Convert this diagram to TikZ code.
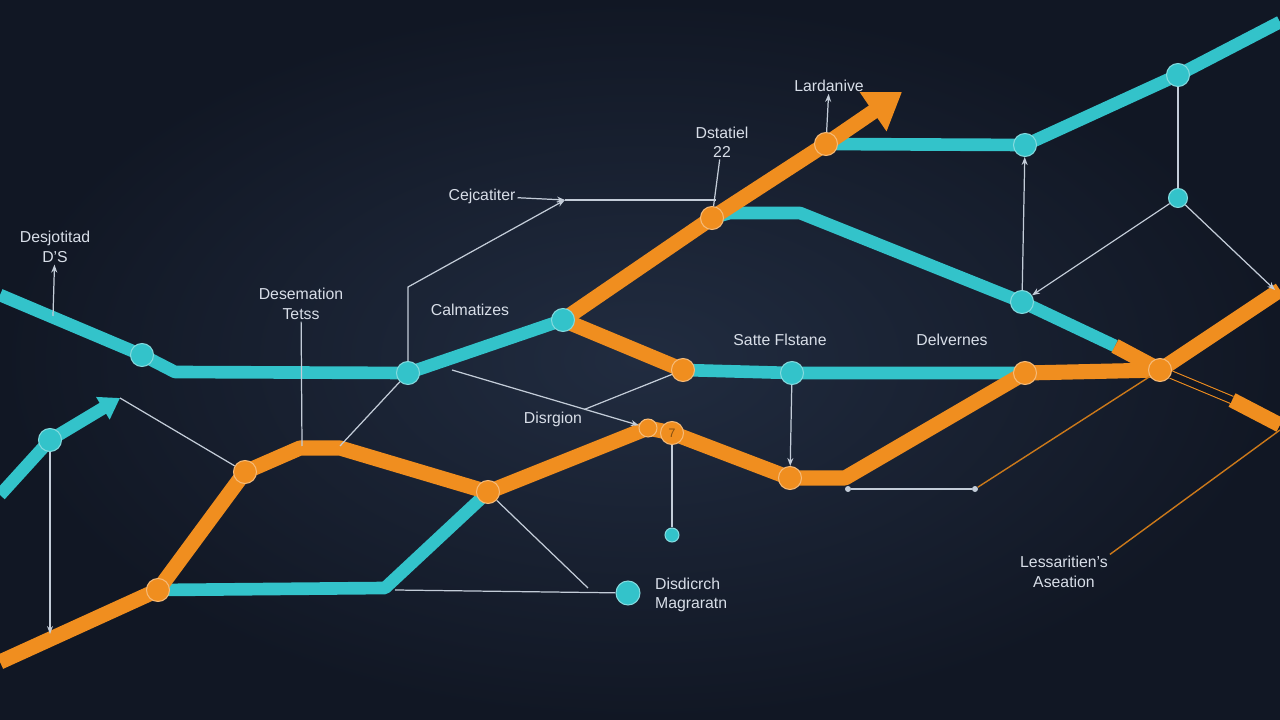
\documentclass[tikz,border=0pt]{standalone}
\usepackage{fontspec}
\setmainfont{Liberation Sans}
\usetikzlibrary{arrows.meta,backgrounds}
\definecolor{bgin}{HTML}{212C40}
\definecolor{bgout}{HTML}{111724}
\definecolor{tealc}{HTML}{33C3CA}
\definecolor{orangec}{HTML}{F08E1F}
\definecolor{linec}{HTML}{C3CCD8}
\definecolor{labelc}{HTML}{D8DEE8}
\tikzset{
  tealbar/.style={draw=tealc, line width=7.2pt, line join=round},
  orangebar/.style={draw=orangec, line width=8.6pt, line join=round},
  thinline/.style={draw=linec, line width=0.7pt},
  orangethin/.style={draw=orangec!85!black, line width=0.8pt},
  tdot/.style={circle, fill=tealc, draw=tealc!60!white, line width=0.6pt, minimum size=4.6mm, inner sep=0pt},
  odot/.style={circle, fill=orangec, draw=orangec!60!white, line width=0.6pt, minimum size=4.6mm, inner sep=0pt},
  pt/.style={circle, fill=linec, minimum size=1.2mm, inner sep=0pt},
  lbl/.style={text=labelc, font=\small, align=center, inner sep=1pt},
}
\begin{document}
\begin{tikzpicture}[x=0.2mm,y=-0.2mm]
\useasboundingbox (0,0) rectangle (1280,720);
	\node[tdot] (ta) at (142,355) {};
	\node[tdot] (tb) at (408,373) {};
	\node[tdot] (tc) at (563,320) {};
	\node[tdot] (td) at (792,373) {};
	\node[tdot] (te) at (1022,302) {};
	\node[tdot] (tf) at (1025,145) {};
	\node[tdot] (tg) at (1178,75) {};
	\node[tdot, minimum size=3.8mm] (th) at (1178,198) {};
	\node[tdot] (ti) at (50,440) {};
	\node[tdot, minimum size=4.8mm] (tj) at (628,593) {};
	\node[tdot, minimum size=2.8mm] (tk) at (672,535) {};
	\node[odot] (oa) at (712,218) {};
	\node[odot] (ob) at (826,144) {};
	\node[odot] (oc) at (683,370) {};
	\node[odot] (od) at (1025,373) {};
	\node[odot] (oe) at (1160,370) {};
	\node[odot] (of) at (158,590) {};
	\node[odot] (og) at (245,472) {};
	\node[odot] (oh) at (488,492) {};
	\node[odot, minimum size=3.6mm] (ok) at (648,428) {};
	\node[odot, font=\scriptsize, text=orangec!55!black] (oi) at (672,433) {7};
	\node[odot] (oj) at (790,478) {};
	\node[pt] (p1) at (848,489) {};
	\node[pt] (p2) at (975,489) {};
	\coordinate (cj) at (565,200);
	\node[lbl] (l1) at (55,247) {Desjotitad\\D'S};
	\node[lbl] (l2) at (301,304) {Desemation\\Tetss};
	\node[lbl] (l3) at (482,196) {Cejcatiter};
	\node[lbl] (l4) at (722,142) {Dstatiel\\22};
	\node[lbl] (l5) at (829,86) {Lardanive};
	\node[lbl] (l6) at (470,310) {Calmatizes};
	\node[lbl] (l7) at (780,340) {Satte Flstane};
	\node[lbl] (l8) at (952,340) {Delvernes};
	\node[lbl] (l9) at (553,419) {Disrgion};
	\node[lbl, align=left, anchor=west] (l10) at (653,595) {Disdicrch\\Magraratn};
	\node[lbl] (l11) at (1064,572) {Lessaritien's\\Aseation};
\begin{scope}[on background layer]
	\shade[inner color=bgin, outer color=bgout] (0,0) rectangle (1280,720);
	% teal bars
	\draw[tealbar] (0,295) -- (ta.center) -- (175,372) -- (tb.center) -- (tc.center);
	\draw[tealbar] (oc.center) -- (td.center) -- (od.center);
	\draw[tealbar] (oa.center) -- (730,213) -- (800,213) -- (te.center) -- (1115,346);
	\draw[tealbar] (ob.center) -- (tf.center) -- (tg.center) -- (1280,22);
	\draw[tealbar] (of.center) -- (385,588) -- (oh.center);
	\draw[tealbar, -{Triangle[length=4mm,width=5mm]}] (0,495) -- (ti.center) -- (120,398);
	% orange bars
	\draw[orangebar, -{Triangle[length=7mm,width=9mm]}] (tc.center) -- (oa.center) -- (ob.center) -- (902,92);
	\draw[orangebar] (tc.center) -- (oc.center);
	\draw[orangebar] (1115,346) -- (oe.center);
	\draw[orangebar] (od.center) -- (oe.center) -- (1280,290);
	\draw[orangebar] (0,662) -- (of.center) -- (og.center) -- (300,448) -- (340,448) -- (oh.center) -- (ok.center) -- (oi.center) -- (oj.center) -- (845,478) -- (od.center);
	\draw[orangebar] (1232,400) -- (1280,425);
	\draw[draw=orangec, line width=0.6pt, double=bgout, double distance=1.3mm] (oe) -- (1232,400);
	% thin lines
	\draw[thinline, -{Stealth[length=1.6mm]}] (53,316) -- (l1);
	\draw[thinline, -{Stealth[length=1.6mm]}] (ti) -- (50,634);
	\draw[thinline] (120,398) -- (og);
	\draw[thinline] (l2) -- (302,446);
	\draw[thinline] (340,446) -- (tb);
	\draw[thinline, -{Stealth[length=1.6mm]}] (tb) -- (408,287) -- (cj);
	\draw[thinline, -{Stealth[length=1.6mm]}] (l3) -- (cj);
	\draw[thinline] (cj) -- (716,200);
	\draw[thinline] (l4) -- (oa);
	\draw[thinline, -{Stealth[length=1.6mm]}] (ob) -- (l5);
	\draw[thinline, -{Stealth[length=1.6mm]}] (452,370) -- (ok);
	\draw[thinline] (l9.north east) -- (oc);
	\draw[thinline] (oi) -- (tk);
	\draw[thinline] (oh) -- (588,588);
	\draw[thinline] (395,590) -- (tj);
	\draw[thinline, -{Stealth[length=1.6mm]}] (td) -- (oj);
	\draw[thinline] (p1) -- (p2);
	\draw[orangethin] (p2) -- (oe);
	\draw[orangethin] (l11.north east) -- (1280,430);
	\draw[thinline, -{Stealth[length=1.6mm]}] (te) -- (tf);
	\draw[thinline] (th) -- (tg);
	\draw[thinline, -{Stealth[length=1.6mm]}] (th) -- (te);
	\draw[thinline, -{Stealth[length=1.6mm]}] (th) -- (1275,290);
\end{scope}
\end{tikzpicture}
\end{document}
